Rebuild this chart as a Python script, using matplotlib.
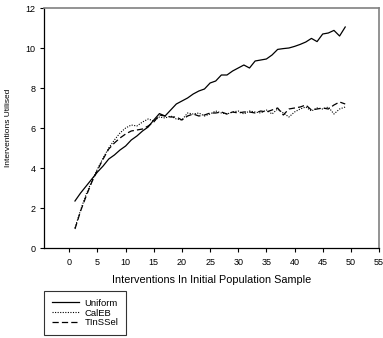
import matplotlib
matplotlib.use("Agg")
import matplotlib.pyplot as plt

plt.rcParams['font.family'] = ['Liberation Sans', 'DejaVu Sans']

# sample sizes
x = list(range(1, 50))

uniform = [2.35, 2.75, 3.1, 3.45, 3.8, 4.1, 4.45, 4.65, 4.9, 5.1,
           5.4, 5.6, 5.85, 6.05, 6.4, 6.72, 6.6, 6.9, 7.2, 7.35,
           7.5, 7.7, 7.85, 7.95, 8.25, 8.35, 8.65, 8.65, 8.85, 9.0,
           9.15, 9.0, 9.35, 9.4, 9.45, 9.65, 9.93, 9.97, 10.0, 10.08,
           10.18, 10.3, 10.48, 10.32, 10.7, 10.75, 10.88, 10.6, 11.05]

caleb = [1.0, 1.9, 2.7, 3.35, 3.95, 4.5, 5.0, 5.4, 5.75, 6.0,
         6.15, 6.1, 6.3, 6.45, 6.35, 6.55, 6.5, 6.6, 6.45, 6.4,
         6.75, 6.7, 6.75, 6.6, 6.7, 6.85, 6.75, 6.7, 6.8, 6.85,
         6.7, 6.85, 6.8, 6.75, 6.9, 6.7, 6.95, 6.75, 6.55, 6.8,
         6.95, 7.05, 6.85, 7.0, 6.95, 7.05, 6.7, 6.95, 7.05]

tinssel = [0.95, 1.85, 2.6, 3.3, 3.9, 4.45, 4.95, 5.25, 5.5, 5.7,
           5.85, 5.9, 5.95, 6.1, 6.3, 6.65, 6.6, 6.55, 6.55, 6.4,
           6.6, 6.7, 6.6, 6.65, 6.75, 6.75, 6.8, 6.7, 6.8, 6.75,
           6.8, 6.8, 6.75, 6.85, 6.8, 6.9, 7.0, 6.65, 6.95, 7.0,
           7.05, 7.15, 6.9, 6.95, 7.0, 6.95, 7.15, 7.3, 7.2]

fig = plt.figure(figsize=(3.83, 3.38), dpi=100)
ax = fig.add_axes([44/383, 90/338, 335/383, 240/338])

ax.plot(x, uniform, color='black', lw=0.9, ls='-', label='Uniform')
ax.plot(x, caleb, color='black', lw=0.8, ls=(0, (1, 1.3)), label='CalEB')
ax.plot(x, tinssel, color='black', lw=0.9, ls=(0, (5, 2.5)), label='TInSSel')

ax.set_xlim(-4.5, 55)
ax.set_ylim(0, 12)
ax.set_xticks(range(0, 56, 5))
ax.set_yticks(range(0, 13, 2))
ax.tick_params(labelsize=6.5, length=3, width=0.8, pad=4, direction='out')
ax.tick_params(axis='y', pad=3)

for s in ['top', 'right']:
    ax.spines[s].set_color('#808080')
    ax.spines[s].set_linewidth(1.2)
for s in ['left', 'bottom']:
    ax.spines[s].set_color('black')
    ax.spines[s].set_linewidth(0.9)

ax.set_xlabel('Interventions In Initial Population Sample', fontsize=7.8, labelpad=6)
ax.set_ylabel('Interventions Utilised', fontsize=6)
ax.yaxis.set_label_coords(-0.095, 0.5)

leg = fig.legend(loc='upper left', bbox_to_anchor=(44/383, 1 - 291/338),
                 fontsize=6.8, frameon=True, fancybox=False, edgecolor='black',
                 handlelength=2.9, handletextpad=0.6, labelspacing=0.1,
                 borderpad=0.8, borderaxespad=0)
leg.get_frame().set_linewidth(0.8)

fig.savefig('out.png', dpi=100)
